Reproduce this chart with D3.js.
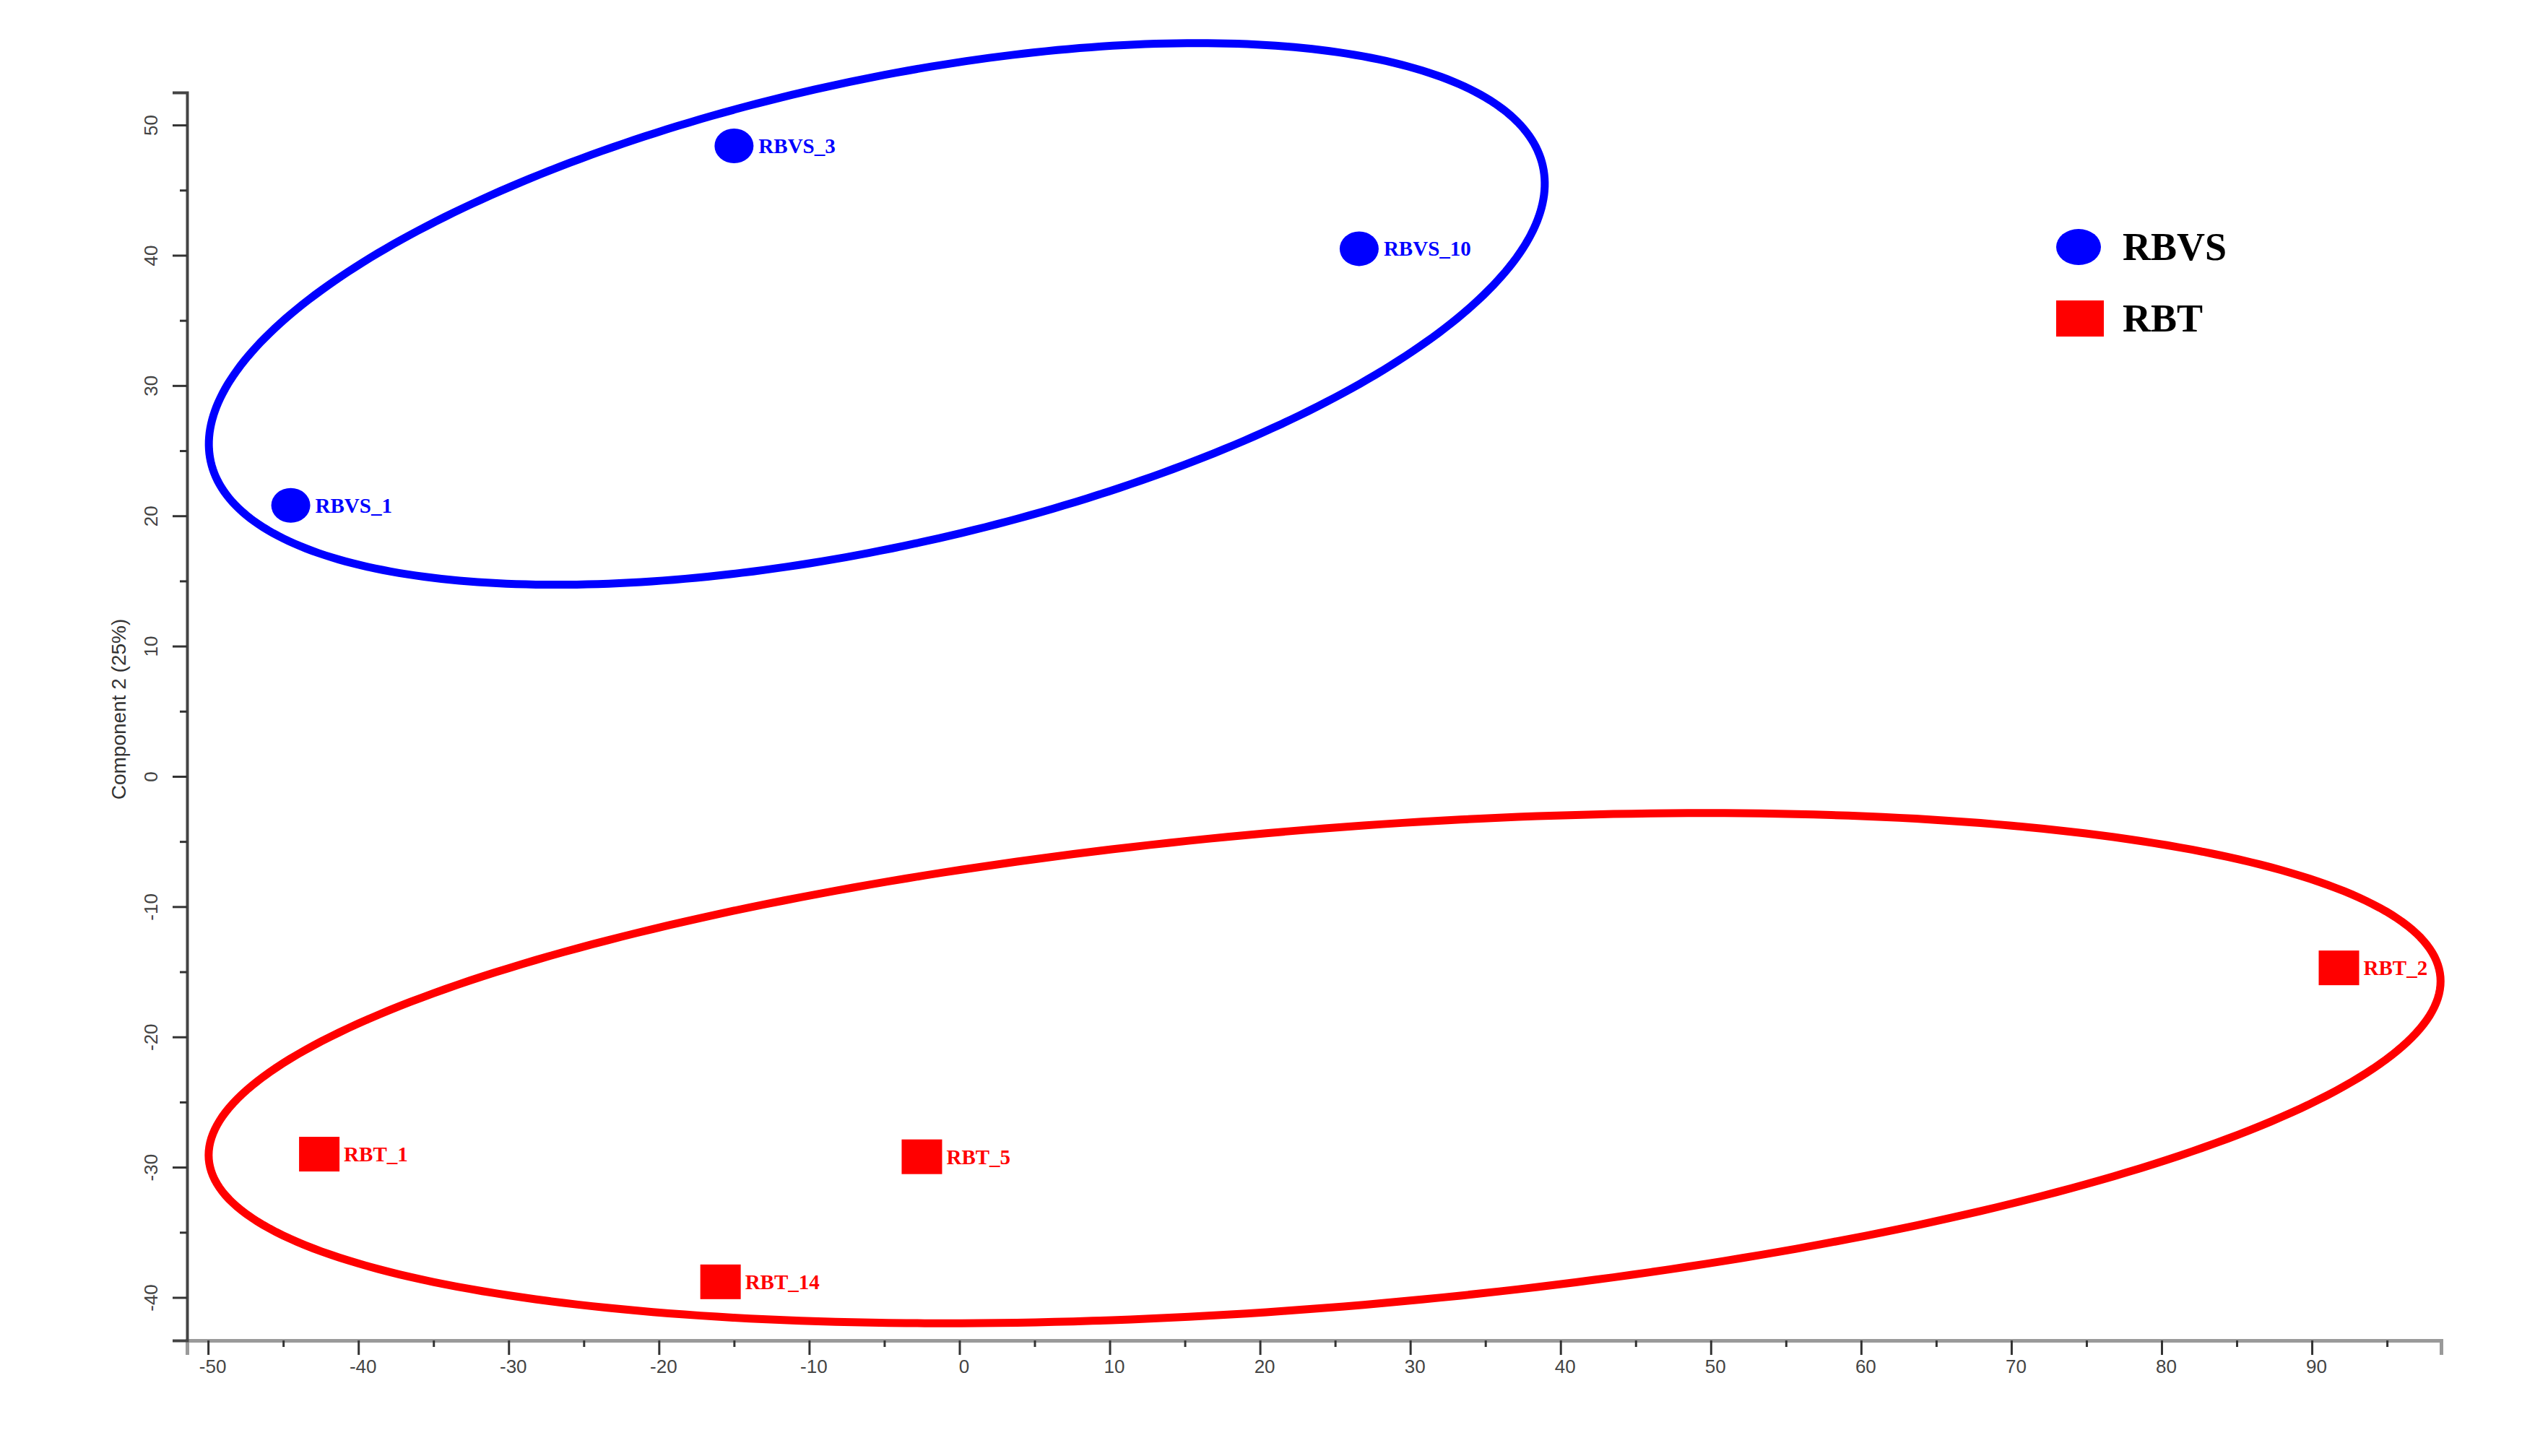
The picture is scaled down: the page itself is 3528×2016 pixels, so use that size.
<!DOCTYPE html>
<html>
<head>
<meta charset="utf-8">
<script src="https://cdn.jsdelivr.net/npm/d3@7"></script>
<style>
  html, body { margin: 0; padding: 0; background: #fff; }
  svg { display: block; }
</style>
</head>
<body>
<script>
// ---- Data ----
const groups = ["RBVS", "RBT"];
const groupColors = ["#0000ff", "#ff0000"];
const sampleNames = ["RBVS_1", "RBVS_3", "RBVS_10", "RBT_1", "RBT_5", "RBT_14", "RBT_2"];
const sampleGroup = ["RBVS", "RBVS", "RBVS", "RBT", "RBT", "RBT", "RBT"];
const comp1 = [-44.5, -15.0, 26.6, -42.6, -2.5, -15.9, 91.8];
const comp2 = [20.8, 48.4, 40.5, -29.0, -29.2, -38.8, -14.7];
// group ellipses: centre (data units), semi-axes (x-units, y-units), tilt (deg)
const ellipseGroup = ["RBVS", "RBT"];
const ellipseCx = [-5.5, 24.3];
const ellipseCy = [35.5, -22.4];
const ellipseA = [45.4, 74.5];
const ellipseB = [17.85, 18.35];
const ellipseTilt = [-12.5, -4.67];
const xMajorTicks = [-50, -40, -30, -20, -10, 0, 10, 20, 30, 40, 50, 60, 70, 80, 90];
const xMinorTicks = [-45, -35, -25, -15, -5, 5, 15, 25, 35, 45, 55, 65, 75, 85, 95];
const yMajorTicks = [-40, -30, -20, -10, 0, 10, 20, 30, 40, 50];
const yMinorTicks = [-35, -25, -15, -5, 5, 15, 25, 35, 45];
const yTitle = "Component 2 (25%)";

// ---- Layout ----
const W = 3528, H = 2016;
const svg = d3.select("body").append("svg").attr("width", W).attr("height", H);
svg.append("rect").attr("width", W).attr("height", H).attr("fill", "#fff");

const x = d3.scaleLinear().domain([-51.4, 98.6]).range([259, 3380]);
const y = d3.scaleLinear().domain([-43.3, 52.5]).range([1856, 128]);
const color = d3.scaleOrdinal().domain(groups).range(groupColors);
const plainFmt = d => String(d);

// ---- Axes ----
const axisFont = "'Liberation Sans', Arial, sans-serif";
const gx = svg.append("g").attr("transform", `translate(0,${y.range()[0]})`);
gx.call(d3.axisBottom(x).tickValues(xMajorTicks).tickSize(20).tickPadding(4).tickFormat(plainFmt));
const gxm = svg.append("g").attr("transform", `translate(0,${y.range()[0]})`);
gxm.call(d3.axisBottom(x).tickValues(xMinorTicks).tickSize(9).tickFormat(""));
[gx, gxm].forEach(g => {
  g.select(".domain").attr("stroke", "#9a9a9a").attr("stroke-width", 5);
  g.selectAll(".tick line").attr("stroke", "#333").attr("stroke-width", 3);
});
gxm.select(".domain").remove();
gx.selectAll(".tick text")
  .attr("font-family", axisFont).attr("font-size", 26).attr("fill", "#444")
  .attr("dx", 6).attr("dy", "0.8em");

const gy = svg.append("g").attr("transform", `translate(${x.range()[0]},0)`);
gy.call(d3.axisLeft(y).tickValues(yMajorTicks).tickSize(20).tickFormat(plainFmt));
const gym = svg.append("g").attr("transform", `translate(${x.range()[0]},0)`);
gym.call(d3.axisLeft(y).tickValues(yMinorTicks).tickSize(10).tickFormat(""));
[gy, gym].forEach(g => {
  g.select(".domain").attr("stroke", "#444").attr("stroke-width", 4);
  g.selectAll(".tick line").attr("stroke", "#333").attr("stroke-width", 3);
});
gym.select(".domain").remove();
gy.selectAll(".tick text")
  .attr("font-family", axisFont).attr("font-size", 26).attr("fill", "#444")
  .attr("x", 0).attr("dy", "0.35em").attr("text-anchor", "middle")
  .attr("transform", "translate(-50,0) rotate(-90)");

svg.append("text")
  .attr("transform", `translate(164,${(y(52.5) + y(-43.3)) / 2 - 10}) rotate(-90)`)
  .attr("text-anchor", "middle").attr("dy", "0.35em")
  .attr("font-family", axisFont).attr("font-size", 28).attr("fill", "#333")
  .text(yTitle);

// ---- Ellipses ----
ellipseGroup.forEach((g, i) => {
  const cxp = x(ellipseCx[i]), cyp = y(ellipseCy[i]);
  const A = x(ellipseCx[i] + ellipseA[i]) - cxp;
  const B = y(ellipseCy[i]) - y(ellipseCy[i] + ellipseB[i]);
  const th = ellipseTilt[i] * Math.PI / 180;
  const pts = d3.range(0, 360, 1).map(d => {
    const t = d * Math.PI / 180;
    const ex = A * Math.cos(t), ey = B * Math.sin(t);
    return [cxp + ex * Math.cos(th) - ey * Math.sin(th), cyp + ex * Math.sin(th) + ey * Math.cos(th)];
  });
  svg.append("path")
    .attr("d", d3.line().curve(d3.curveLinearClosed)(pts))
    .attr("fill", "none").attr("stroke", color(g)).attr("stroke-width", 11);
});

// ---- Points ----
const labelFont = "'Liberation Serif', 'Times New Roman', serif";
sampleNames.forEach((name, i) => {
  const g = sampleGroup[i];
  const px = x(comp1[i]), py = y(comp2[i]);
  if (g === "RBVS") {
    svg.append("ellipse").attr("cx", px).attr("cy", py).attr("rx", 27).attr("ry", 24)
      .attr("fill", color(g));
  } else {
    svg.append("rect").attr("x", px - 28).attr("y", py - 24).attr("width", 56).attr("height", 48)
      .attr("fill", color(g));
  }
  svg.append("text").attr("x", px + 34).attr("y", py + 10)
    .attr("font-family", labelFont).attr("font-weight", "bold").attr("font-size", 29)
    .attr("fill", color(g)).text(name);
});

// ---- Legend ----
const legend = svg.append("g");
groups.forEach((g, i) => {
  const ly = 342 + i * 99;
  if (g === "RBVS") {
    legend.append("ellipse").attr("cx", 2878).attr("cy", ly).attr("rx", 31).attr("ry", 25).attr("fill", color(g));
  } else {
    legend.append("rect").attr("x", 2847).attr("y", ly - 25).attr("width", 66).attr("height", 50).attr("fill", color(g));
  }
  legend.append("text").attr("x", 2939).attr("y", ly + 18)
    .attr("font-family", labelFont).attr("font-weight", "bold").attr("font-size", 54)
    .attr("fill", "#000").text(g);
});
</script>
</body>
</html>
